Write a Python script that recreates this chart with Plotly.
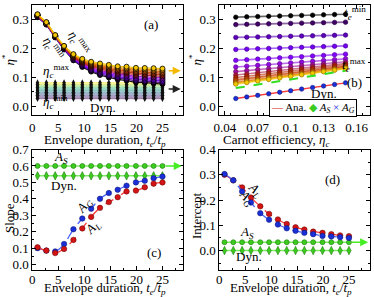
import math
import plotly.graph_objects as go
from plotly.colors import sample_colorscale

# ---------------- data ----------------
te = [1, 2.7, 4.4, 6.1, 7.9, 9.6, 11.3, 13, 14.7, 16.4, 18.1, 19.9, 21.6, 23.3, 25]
eta_c = [0.05, 0.06, 0.07, 0.08, 0.09, 0.10, 0.11, 0.12, 0.13, 0.14, 0.15]

slope_AG = [0.100, 0.085, 0.080, 0.125, 0.215, 0.280, 0.340, 0.400, 0.435, 0.455, 0.480, 0.500, 0.510, 0.525, 0.535]
slope_AL = [0.105, 0.085, 0.070, 0.095, 0.150, 0.220, 0.290, 0.345, 0.380, 0.410, 0.445, 0.450, 0.470, 0.492, 0.500]
int_AG = [0.303, 0.278, 0.234, 0.190, 0.148, 0.122, 0.103, 0.088, 0.078, 0.070, 0.065, 0.058, 0.056, 0.053, 0.050]
int_AL = [0.300, 0.278, 0.250, 0.210, 0.175, 0.145, 0.123, 0.105, 0.092, 0.083, 0.075, 0.070, 0.065, 0.060, 0.057]
slope_AS = 0.60
int_AS = 0.033
slope_dyn = 0.54
int_dyn = 0.0

# ---------------- styles ----------------
FONT = "'Liberation Serif', 'Times New Roman', Times, serif"
GREEN_L = "rgba(110,235,80,0.9)"
GREEN_M = "#3ccc1e"
GREEN_D = "#1f7a10"
BLUE = "#1a2fd6"
BLUE_L = "#4a62ff"
RED = "#d41414"
RED_L = "#ff3a3a"


def gnuplot(t):
    r = math.sqrt(t)
    g = t ** 3
    b = max(math.sin(2 * math.pi * t), 0.0)
    return (int(255 * r), int(255 * g), int(255 * b))


def rgb(c, a=1.0):
    return "rgba(%d,%d,%d,%g)" % (c[0], c[1], c[2], a)


def parse_rgb(s):
    s = s[s.index("(") + 1:s.index(")")]
    return tuple(int(float(v)) for v in s.split(","))


fig = go.Figure()

# ---------- panel (a) ----------
vir = sample_colorscale("Viridis", [i / (len(eta_c) - 1) for i in range(len(eta_c))])
for i, ec in enumerate(eta_c):
    col = parse_rgb(vir[i])
    fig.add_trace(go.Scatter(
        x=te, y=[slope_dyn * ec + int_dyn for _ in te], mode="lines+markers",
        line=dict(color=rgb(col, 0.5), width=1.6),
        marker=dict(symbol="diamond-tall", size=5, color="#111111"),
        xaxis="x", yaxis="y", showlegend=False))
for i, ec in enumerate(eta_c):
    col = gnuplot(0.92 * i / (len(eta_c) - 1))
    fig.add_trace(go.Scatter(
        x=te, y=[s * ec + b for s, b in zip(slope_AG, int_AG)], mode="lines+markers",
        line=dict(color=rgb(col, 0.9), width=1.3),
        marker=dict(symbol="circle", size=5, color=rgb(col), line=dict(color="black", width=0.8)),
        xaxis="x", yaxis="y", showlegend=False))

# ---------- panel (b) ----------
for j in range(len(te)):
    col = gnuplot(0.92 * j / (len(te) - 1))
    dark = tuple(int(v * 0.6) for v in col)
    fig.add_trace(go.Scatter(
        x=eta_c, y=[slope_AG[j] * ec + int_AG[j] for ec in eta_c], mode="lines+markers",
        line=dict(color=rgb(col, 0.6), width=1.6),
        marker=dict(symbol="circle", size=4.5, color=rgb(col), line=dict(color=rgb(dark), width=0.6)),
        xaxis="x2", yaxis="y2", showlegend=False))
fig.add_trace(go.Scatter(
    x=eta_c, y=[slope_AS * ec + int_AS for ec in eta_c], mode="lines",
    line=dict(color="#33dd22", width=2, dash="dash"),
    xaxis="x2", yaxis="y2", showlegend=False))
fig.add_trace(go.Scatter(
    x=eta_c, y=[slope_dyn * ec + int_dyn for ec in eta_c], mode="lines+markers",
    line=dict(color=RED_L, width=1.4),
    marker=dict(symbol="circle", size=4.5, color=BLUE, line=dict(color="#0a1470", width=0.5)),
    xaxis="x2", yaxis="y2", showlegend=False))

# ---------- panel (c) ----------
fig.add_trace(go.Scatter(
    x=te, y=[slope_AS for _ in te], mode="lines+markers",
    line=dict(color=GREEN_L, width=1.6),
    marker=dict(symbol="circle", size=5, color=GREEN_M, line=dict(color=GREEN_D, width=0.6)),
    xaxis="x3", yaxis="y3", showlegend=False))
fig.add_trace(go.Scatter(
    x=te, y=[slope_dyn for _ in te], mode="lines+markers",
    line=dict(color=GREEN_L, width=1.6),
    marker=dict(symbol="diamond-tall", size=6, color=GREEN_M, line=dict(color=GREEN_D, width=0.6)),
    xaxis="x3", yaxis="y3", showlegend=False))
fig.add_trace(go.Scatter(
    x=te, y=slope_AG, mode="lines+markers", line_shape="spline",
    line=dict(color=BLUE_L, width=1.3, dash="dash"),
    marker=dict(symbol="circle", size=5.5, color=BLUE, line=dict(color="#0a1470", width=0.5)),
    xaxis="x3", yaxis="y3", showlegend=False))
fig.add_trace(go.Scatter(
    x=te, y=slope_AL, mode="lines+markers", line_shape="spline",
    line=dict(color=RED_L, width=1.3, dash="dash"),
    marker=dict(symbol="circle", size=5.5, color=RED, line=dict(color="#600000", width=0.5)),
    xaxis="x3", yaxis="y3", showlegend=False))

# ---------- panel (d) ----------
fig.add_trace(go.Scatter(
    x=te, y=[int_AS for _ in te], mode="lines+markers",
    line=dict(color=GREEN_L, width=1.6),
    marker=dict(symbol="circle", size=5, color=GREEN_M, line=dict(color=GREEN_D, width=0.6)),
    xaxis="x4", yaxis="y4", showlegend=False))
fig.add_trace(go.Scatter(
    x=te, y=[int_dyn for _ in te], mode="lines+markers",
    line=dict(color=GREEN_L, width=1.6),
    marker=dict(symbol="diamond-tall", size=6, color=GREEN_M, line=dict(color=GREEN_D, width=0.6)),
    xaxis="x4", yaxis="y4", showlegend=False))
fig.add_trace(go.Scatter(
    x=te, y=int_AL, mode="lines+markers", line_shape="spline",
    line=dict(color=RED_L, width=1.3, dash="dash"),
    marker=dict(symbol="circle", size=5.5, color=RED, line=dict(color="#600000", width=0.5)),
    xaxis="x4", yaxis="y4", showlegend=False))
fig.add_trace(go.Scatter(
    x=te, y=int_AG, mode="lines+markers", line_shape="spline",
    line=dict(color=BLUE_L, width=1.3, dash="dash"),
    marker=dict(symbol="circle", size=5.5, color=BLUE, line=dict(color="#0a1470", width=0.5)),
    xaxis="x4", yaxis="y4", showlegend=False))

# ---------------- axes ----------------
W, H = 374, 297


def dom_x(a, b):
    return [a / W, b / W]


def dom_y(top, bottom):
    return [1 - bottom / H, 1 - top / H]


def ax(**kw):
    d = dict(showline=True, linecolor="black", linewidth=1, mirror="allticks",
             ticks="inside", ticklen=4, tickcolor="black", showgrid=False, zeroline=False,
             tickfont=dict(family=FONT, size=13, color="black"),
             automargin=False)
    d.update(kw)
    return d


XA = dom_x(32.3, 183.3)
XB = dom_x(219.3, 369.7)
YT = dom_y(5, 115)
YB = dom_y(149.5, 269.5)

fig.update_layout(
    width=W, height=H, margin=dict(l=0, r=0, t=0, b=0),
    paper_bgcolor="white", plot_bgcolor="white",
    font=dict(family=FONT, size=13, color="black"),
    xaxis=ax(domain=XA, anchor="y", range=[0, 29], dtick=5, tick0=0,
             minor=dict(ticks="inside", ticklen=2, dtick=2.5, tickcolor="black")),
    yaxis=ax(domain=YT, anchor="x", range=[-0.03, 0.35], dtick=0.1, tick0=0, tickformat=".1f",
             minor=dict(ticks="inside", ticklen=2, dtick=0.05, tickcolor="black")),
    xaxis2=ax(domain=XB, anchor="y2", range=[0.035, 0.172], dtick=0.03, tick0=0.04,
              minor=dict(ticks="inside", ticklen=2, dtick=0.015, tickcolor="black")),
    yaxis2=ax(domain=YT, anchor="x2", range=[-0.03, 0.35], dtick=0.1, tick0=0, tickformat=".1f",
              minor=dict(ticks="inside", ticklen=2, dtick=0.05, tickcolor="black")),
    xaxis3=ax(domain=XA, anchor="y3", range=[0, 29], dtick=5, tick0=0, ticklabelstandoff=-2,
              minor=dict(ticks="inside", ticklen=2, dtick=2.5, tickcolor="black")),
    yaxis3=ax(domain=YB, anchor="x3", range=[-0.03, 0.70], dtick=0.1, tick0=0, tickformat=".1f",
              minor=dict(ticks="inside", ticklen=2, dtick=0.05, tickcolor="black")),
    xaxis4=ax(domain=XB, anchor="y4", range=[0, 29], dtick=5, tick0=0, ticklabelstandoff=-2,
              minor=dict(ticks="inside", ticklen=2, dtick=2.5, tickcolor="black")),
    yaxis4=ax(domain=YB, anchor="x4", range=[-0.075, 0.40], dtick=0.1, tick0=0, tickformat=".1f",
              minor=dict(ticks="inside", ticklen=2, dtick=0.05, tickcolor="black")),
)

# ---------------- annotations ----------------
ann = []


def txt(xr, yr, x, y, text, angle=0, size=13):
    ann.append(dict(xref=xr, yref=yr, x=x, y=y, text=text, showarrow=False, textangle=angle,
                    font=dict(family=FONT, size=size, color="black"),
                    xanchor="center", yanchor="middle"))


def ptxt(px, py, text, angle=0, size=13):
    txt("paper", "paper", px / W, 1 - py / H, text, angle, size)


def arrow(xr, yr, x0, x1, y, color):
    ann.append(dict(xref=xr, yref=yr, axref=xr, ayref=yr, x=x1, y=y, ax=x0, ay=y, text="",
                    showarrow=True, arrowhead=2, arrowsize=1, arrowwidth=1.6, arrowcolor=color))


# axis titles
te_title = "Envelope duration, <i>t</i><sub><i>e</i></sub>/<i>t</i><sub><i>p</i></sub>"
ptxt(105, 140, te_title)
ptxt(276, 140, "Carnot efficiency, <i>η</i><sub><i>c</i></sub>")
ptxt(105, 288.5, te_title)
ptxt(291, 288.5, te_title)
ptxt(8.5, 60, "<i>η</i><sup>*</sup>", angle=-90)
ptxt(195.5, 60, "<i>η</i><sup>*</sup>", angle=-90)
ptxt(9, 218, "Slope", angle=-90)
ptxt(196, 216, "Intercept", angle=-90)

emax = "<i>η</i><sub><i>c</i></sub><sup>max</sup>"
emin = "<i>η</i><sub><i>c</i></sub><sup>min</sup>"
# (a)
txt("x", "y", 22.8, 0.281, "(a)")
txt("x", "y", 9.0, 0.220, emax, angle=55)
txt("x", "y", 4.0, 0.202, emin, angle=55)
txt("x", "y", 4.6, 0.121, emax)
txt("x", "y", 4.4, 0.016, emin)
txt("x", "y", 13.5, -0.003, "Dyn.")
arrow("x", "y", 25.9, 28.5, 0.1227, "#f5b800")
arrow("x", "y", 25.9, 28.5, 0.060, "#222222")
# (b)
txt("x2", "y2", 0.1586, 0.324, "<i>t</i><sub><i>e</i></sub><sup>min</sup>")
txt("x2", "y2", 0.1577, 0.143, "<i>t</i><sub><i>e</i></sub><sup>max</sup>")
txt("x2", "y2", 0.1586, 0.083, "(b)")
txt("x2", "y2", 0.130, 0.044, "Dyn.")
ann.append(dict(xref="x2", yref="y2", x=0.1205, y=-0.007, showarrow=False,
                xanchor="center", yanchor="middle",
                text=("<span style='color:%s'>—</span> Ana. "
                      "<span style='color:%s'>◆</span> <i>A</i><sub><i>S</i></sub> "
                      "<span style='color:%s'>×</span> <i>A</i><sub><i>G</i></sub>") % (RED, GREEN_M, BLUE),
                font=dict(family=FONT, size=11, color="black"),
                bordercolor="black", borderwidth=1, borderpad=1, bgcolor="white"))
# (c)
txt("x3", "y3", 5.6, 0.651, "<i>A</i><sub><i>S</i></sub>")
txt("x3", "y3", 6.1, 0.483, "Dyn.")
txt("x3", "y3", 10.1, 0.357, "<i>A</i><sub><i>G</i></sub>", angle=-50)
txt("x3", "y3", 11.7, 0.224, "<i>A</i><sub><i>L</i></sub>", angle=-45)
txt("x3", "y3", 23.4, 0.071, "(c)")
arrow("x3", "y3", 25.3, 28.7, 0.60, "#44ee22")
# (d)
txt("x4", "y4", 6.96, 0.238, "<i>A</i><sub><i>L</i></sub>", angle=45)
txt("x4", "y4", 5.3, 0.208, "<i>A</i><sub><i>G</i></sub>", angle=50)
txt("x4", "y4", 21.8, 0.280, "(d)")
txt("x4", "y4", 5.3, 0.070, "<i>A</i><sub><i>S</i></sub>")
txt("x4", "y4", 5.8, -0.023, "Dyn.")
arrow("x4", "y4", 25.3, 28.7, 0.033, "#44ee22")

fig.update_layout(annotations=ann)
fig.write_html("out.html", config={"displayModeBar": False},
               post_script="document.body.style.margin='0px';document.body.style.overflow='hidden';")
